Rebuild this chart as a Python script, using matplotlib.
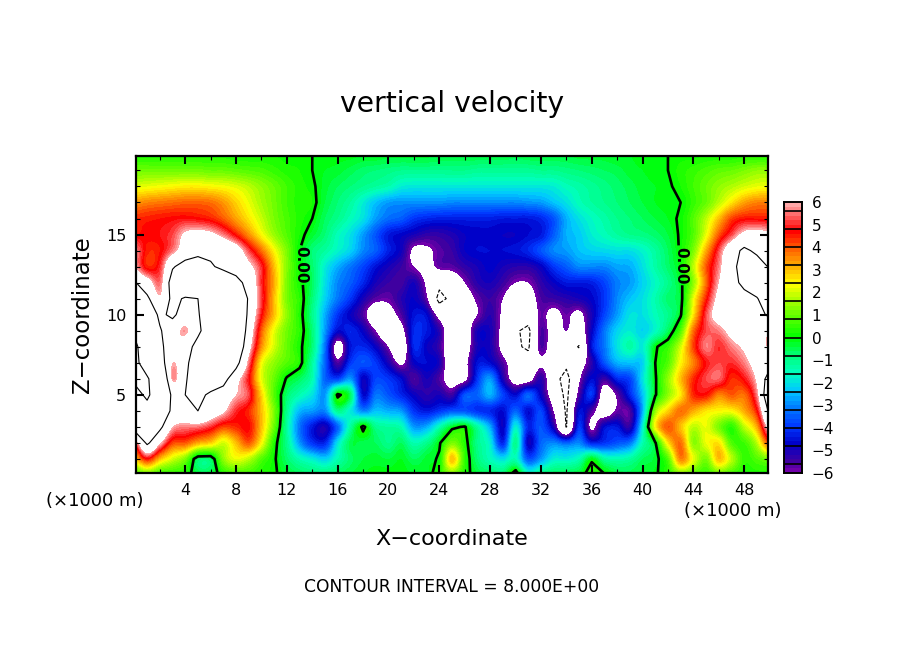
import numpy as np
import matplotlib
matplotlib.use('Agg')
import matplotlib.pyplot as plt
from matplotlib.colors import BoundaryNorm, LinearSegmentedColormap
from matplotlib.ticker import MultipleLocator

# vertical velocity, in tenths, one row per km of height
x_km = list(range(0, 51))
z_km = list(range(0, 21))
w_z00 = [5,10,5,4,3,-4,-4,3,6,6, 3,1,-3,-6,-8,-8,-6,-4,-2,-1, -1,-1,-2,-3,4,12,3,-4,-6,-8, 6,-14,-8,-6,-5,-3,4,1,-4,-5, -3,-1,4,12,8,5,10,6,3,3, 3]
w_z01 = [28,46,30,20,12,-6,-6,14,22,18, 8,1,-7,-14,-18,-22,-14,-7,-4,-3, -4,-2,-6,-3,1,30,5,-8,-15,-20, -14,-36,-28,-18,-18,-14,-1,-12,-14,-12, -6,-3,8,36,22,12,30,18,5,8, 12]
w_z02 = [50,84,62,42,40,32,28,20,30,40, 24,3,-10,-28,-40,-42,-20,-5,-5,-6, -10,-6,-14,-10,-1,12,3,-10,-18,-42, -10,-48,-34,-30,-34,-30,-42,-40,-36,-32, -14,-1,26,38,14,22,26,8,6,18, 42]
w_z03 = [90,100,85,60,56,55,50,42,44,47, 30,10,-12,-32,-44,-50,-34,-12,2,-10, -12,-14,-28,-26,-14,-2,1,-12,-26,-48, -18,-42,-36,-50,-81,-40,-62,-46,-44,-52, -18,24,40,30,18,22,12,4,18,32, 66]
w_z04 = [120,130,100,75,72,80,70,62,50,44, 30,12,-10,-25,-28,-30,-10,-18,-30,-24, -26,-28,-40,-44,-40,-36,-36,-40,-42,-46, -34,-46,-38,-60,-82,-46,-56,-68,-58,-56, -26,14,28,38,32,26,24,24,32,46, 85]
w_z05 = [130,175,105,76,80,86,76,70,60,52, 28,8,-7,-14,-20,-28,2,-6,-46,-32, -36,-42,-48,-52,-50,-54,-36,-34,-26,-38, -46,-34,-48,-68,-84,-56,-40,-68,-58,-42, -24,-1,14,26,44,46,36,40,38,56, 100]
w_z06 = [175,168,110,58,78,92,96,88,66,48, 22,10,-1,-6,-14,-34,-38,-28,-48,-38, -40,-46,-56,-50,-56,-66,-63,-40,-28,-50, -66,-66,-52,-74,-86,-62,-46,-54,-42,-38, -20,-1,14,30,44,52,54,44,48,62, 90]
w_z07 = [180,125,92,60,74,96,102,100,88,56, 24,14,8,3,-12,-34,-56,-40,-36,-40, -50,-62,-48,-46,-50,-72,-64,-45,-46,-56, -68,-74,-62,-70,-76,-68,-52,-36,-26,-24, -22,0,8,24,36,48,52,50,56,66, 72]
w_z08 = [175,120,85,68,70,88,100,105,100,66, 35,20,10,2,-8,-32,-66,-45,-42,-48, -60,-72,-42,-48,-54,-72,-68,-50,-50,-64, -78,-82,-56,-68,-72,-81,-45,-32,-20,-13, -18,-1,5,20,42,56,50,56,62,68, 58]
w_z09 = [150,110,82,68,58,75,95,105,104,72, 40,22,11,4,-8,-28,-46,-42,-48,-60, -72,-65,-42,-44,-52,-72,-70,-50,-50,-64, -78,-84,-56,-66,-60,-68,-48,-32,-22,-18, -22,-16,-6,8,38,52,56,64,68,66, 62]
w_z10 = [130,96,76,84,70,78,96,104,104,76, 48,30,14,3,-10,-26,-40,-48,-56,-70, -66,-56,-45,-46,-65,-75,-68,-60,-52,-62, -70,-72,-58,-64,-58,-63,-50,-38,-28,-20, -20,-15,-10,-1,26,52,66,68,70,72, 84]
w_z11 = [120,84,62,85,78,80,95,100,100,78, 52,30,12,4,-8,-22,-32,-40,-50,-57, -58,-52,-48,-58,-86,-75,-68,-58,-54,-60, -70,-67,-56,-54,-52,-50,-47,-40,-30,-24, -20,-14,-7,-3,22,45,64,68,72,78, 100]
w_z12 = [82,68,55,90,100,100,97,94,86,74, 50,32,12,2,-6,-20,-30,-35,-42,-50, -54,-55,-50,-62,-75,-70,-60,-52,-50,-54, -60,-60,-53,-48,-44,-44,-43,-38,-31,-28, -22,-16,-10,-2,14,38,60,72,86,100, 96]
w_z13 = [60,45,50,78,88,90,82,76,72,64, 50,30,13,1,-7,-18,-26,-32,-38,-45, -50,-54,-60,-64,-58,-57,-53,-50,-47,-50, -52,-52,-48,-40,-35,-30,-30,-30,-27,-26, -20,-13,-7,0,18,40,56,76,86,90, 78]
w_z14 = [58,45,46,56,68,74,76,76,68,52, 38,24,12,0,-8,-12,-17,-22,-30,-35, -43,-49,-62,-62,-57,-54,-48,-46,-46,-46, -45,-42,-36,-30,-28,-24,-22,-21,-20,-20, -17,-12,-6,1,12,32,52,72,84,76, 66]
w_z15 = [46,47,48,52,62,65,63,56,46,35, 24,15,8,2,-3,-8,-15,-20,-28,-36, -44,-47,-50,-53,-53,-51,-48,-47,-47,-48, -48,-46,-44,-35,-26,-23,-18,-15,-12,-10, -9,-7,-4,1,8,22,40,52,64,66, 62]
w_z16 = [44,45,46,47,48,47,45,40,33,26, 19,12,7,3,0,-6,-10,-15,-20,-28, -33,-35,-40,-42,-43,-43,-43,-43,-43,-44, -44,-44,-42,-36,-26,-20,-16,-13,-10,-8, -6,-4,-2,1,8,18,30,42,46,46, 46]
w_z17 = [34,36,37,38,39,39,38,34,28,22, 16,11,6,3,2,-4,-8,-12,-18,-24, -28,-29,-29,-29,-29,-30,-30,-30,-30,-30, -30,-29,-28,-24,-20,-15,-12,-10,-8,-6, -4,-2,-1,0,5,10,18,26,33,36, 36]
w_z18 = [21,22,23,24,25,25,24,23,21,18, 14,10,6,3,1,-3,-6,-8,-10,-12, -14,-18,-19,-19,-19,-19,-19,-19,-19,-19, -19,-19,-19,-18,-15,-13,-11,-9,-7,-5, -3,-2,-1,2,6,10,14,17,20,22, 23]
w_z19 = [11,11,11,11,11,11,10,10,9,8, 7,5,3,2,0,-2,-3,-5,-7,-8, -9,-10,-10,-10,-10,-10,-10,-11,-11,-11, -11,-11,-10,-10,-9,-8,-7,-6,-5,-3, -2,-1,0,3,5,7,9,10,12,14, 14]
w_z20 = [3,3,3,3,3,3,3,3,2,2, 2,2,1,1,0,0,-1,-1,-2,-2, -3,-3,-3,-3,-4,-4,-4,-4,-4,-4, -5,-4,-4,-4,-4,-3,-3,-3,-2,-2, -1,-1,0,1,1,2,2,2,3,3, 3]
w_rows = [w_z00, w_z01, w_z02, w_z03, w_z04, w_z05, w_z06, w_z07, w_z08, w_z09, w_z10,
          w_z11, w_z12, w_z13, w_z14, w_z15, w_z16, w_z17, w_z18, w_z19, w_z20]

# colour scale
scale_values = [-6, -5.6, -4.8, -4, -3.2, -2.4, -1.6, -0.8, 0, 0.8, 1.6, 2.4, 3.2, 4, 4.8, 5.6, 6]
scale_colors = ['#7000aa', '#4000a0', '#0000c8', '#0038ff', '#0078ff', '#00c8ff', '#00ffc0', '#00ff78',
                '#00ff00', '#50ff00', '#a0ff00', '#ffff00', '#ffb000', '#ff6000', '#ff0000', '#ff7070', '#ffa8a8']
bar_ticks = [-6, -5, -4, -3, -2, -1, 0, 1, 2, 3, 4, 5, 6]
bar_lines = [-5.6, -4.8, -4, -3.2, -2.4, -1.6, -0.8, 0, 0.8, 1.6, 2.4, 3.2, 4, 4.8, 5.6]
x_labels = [4, 8, 12, 16, 20, 24, 28, 32, 36, 40, 44, 48]
z_labels = [5, 10, 15]

w = np.array(w_rows) / 10.0
levels = np.arange(-6, 6.01, 0.2)
anchors = [(v + 6) / 12 for v in scale_values]
cmap = LinearSegmentedColormap.from_list('w', list(zip(anchors, scale_colors)), N=len(levels) - 1)
cmap.set_over('white')
cmap.set_under('white')
norm = BoundaryNorm(levels, cmap.N)

fig = plt.figure(figsize=(9.04, 6.54), dpi=100)
W, H = 904.0, 654.0
ax = fig.add_axes([136 / W, 1 - 473 / H, 632 / W, 317 / H])
ax.imshow(w, origin='lower', extent=(-0.5, 50.5, -0.5, 20.5), aspect='auto', cmap=cmap, norm=norm,
          interpolation='catrom', interpolation_stage='data')
ax.contour(x_km, z_km, w, levels=[8, 16, 24], colors='k', linewidths=0.8, linestyles='solid')
ax.contour(x_km, z_km, w, levels=[-16, -8], colors='k', linewidths=0.8, linestyles='dashed')
zero = ax.contour(x_km, z_km, w, levels=[0], colors='k', linewidths=1.9, linestyles='solid')
for t in ax.clabel(zero, fmt='%.2f', fontsize=11, manual=[(13.1, 13.1), (43.2, 13.1)], inline_spacing=2):
    t.set_rotation(-90)
    t.set_fontweight('bold')

ax.set_xlim(0.125, 49.875)
ax.set_ylim(0.125, 19.9)
ax.xaxis.set_major_locator(MultipleLocator(4))
ax.xaxis.set_minor_locator(MultipleLocator(2))
ax.yaxis.set_major_locator(MultipleLocator(5))
ax.yaxis.set_minor_locator(MultipleLocator(1))
ax.set_xticks(x_labels)
ax.set_yticks(z_labels)
ax.tick_params(which='major', direction='in', top=True, right=True, length=6, width=1.5, labelsize=11.5, pad=7)
ax.tick_params(which='minor', direction='in', top=True, right=True, length=3, width=0.8)
for s in ax.spines.values():
    s.set_linewidth(1.6)

# colour bar
cax = fig.add_axes([784 / W, 1 - 473 / H, 18 / W, 271 / H])
mid = (levels[:-1] + levels[1:]) / 2
cax.pcolormesh([0, 1], levels, mid[:, None], cmap=cmap, norm=norm)
cax.hlines(bar_lines, 0, 1, colors='k', linewidths=1.2)
cax.set_xlim(0, 1)
cax.set_ylim(-6, 6)
cax.set_xticks([])
cax.yaxis.tick_right()
cax.set_yticks(bar_ticks)
cax.set_yticklabels([str(v).replace('-', '\u2212') for v in bar_ticks])
cax.tick_params(axis='y', length=0, labelsize=11, pad=7)
for s in cax.spines.values():
    s.set_linewidth(1.4)

fig.text(452 / W, 1 - 104 / H, 'vertical velocity', ha='center', va='center', fontsize=20.3)
fig.text(452 / W, 1 - 539 / H, 'X\u2212coordinate', ha='center', va='center', fontsize=16)
fig.text(83 / W, 1 - 315 / H, 'Z\u2212coordinate', ha='center', va='center', rotation=90, fontsize=16.5)
fig.text(95 / W, 1 - 501 / H, '(\u00d71000 m)', ha='center', va='center', fontsize=13)
fig.text(733 / W, 1 - 511 / H, '(\u00d71000 m)', ha='center', va='center', fontsize=13)
fig.text(452 / W, 1 - 587 / H, 'CONTOUR INTERVAL = 8.000E+00', ha='center', va='center', fontsize=12.3)

plt.savefig('out.png', dpi=100)
